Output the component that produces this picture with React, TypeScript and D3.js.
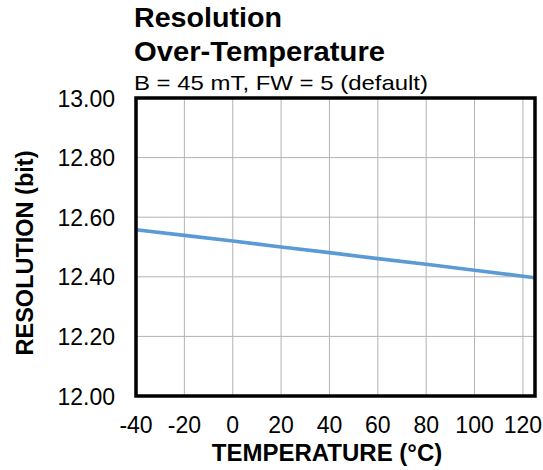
import { line, scaleLinear } from "d3";

const temps = [-40, -20, 0, 20, 40, 60, 80, 100, 120, 125];
const resolution = [12.558, 12.539, 12.52, 12.5, 12.481, 12.461, 12.442, 12.422, 12.402, 12.397];
const xTicks = [-40, -20, 0, 20, 40, 60, 80, 100, 120];
const yTicks = [12.0, 12.2, 12.4, 12.6, 12.8, 13.0];

export default function App() {
  const width = 543;
  const height = 470;
  const left = 136;
  const right = 535;
  const top = 98;
  const bottom = 396;
  const font = "'Liberation Sans', Arial, sans-serif";

  const x = scaleLinear().domain([-40, 125]).range([left, right]);
  const y = scaleLinear().domain([12, 13]).range([bottom, top]);

  const path =
    line<number>()
      .x((_, i) => x(temps[i]))
      .y((d) => y(d))(resolution) ?? "";

  return (
    <svg
      width={width}
      height={height}
      style={{ position: "absolute", left: 0, top: 0, background: "#fff" }}
      fontFamily={font}
    >
      <text x={134} y={27} fontSize={27} fontWeight="bold" fill="#000" textLength={148} lengthAdjust="spacingAndGlyphs">
        Resolution
      </text>
      <text x={134} y={61} fontSize={27} fontWeight="bold" fill="#000" textLength={251} lengthAdjust="spacingAndGlyphs">
        Over-Temperature
      </text>
      <text x={134} y={90} fontSize={21} fill="#000" textLength={294} lengthAdjust="spacingAndGlyphs">
        B = 45 mT, FW = 5 (default)
      </text>

      {xTicks.map((t) => (
        <line key={`gx${t}`} x1={x(t)} x2={x(t)} y1={top} y2={bottom} stroke="#b3b3b3" strokeWidth={1} />
      ))}
      {yTicks.map((t) => (
        <line key={`gy${t}`} x1={left} x2={right} y1={y(t)} y2={y(t)} stroke="#b3b3b3" strokeWidth={1} />
      ))}

      <path d={path} fill="none" stroke="#5b9bd5" strokeWidth={3.6} />

      <rect x={left} y={top} width={right - left} height={bottom - top} fill="none" stroke="#000" strokeWidth={3.5} />

      {yTicks.map((t) => (
        <text key={`ly${t}`} x={115} y={y(t) + 8.5} fontSize={23} textAnchor="end" fill="#000">
          {t.toFixed(2)}
        </text>
      ))}
      {xTicks.map((t) => (
        <text key={`lx${t}`} x={x(t)} y={433} fontSize={23} textAnchor="middle" fill="#000">
          {t}
        </text>
      ))}

      <text x={327} y={461} fontSize={24} fontWeight="bold" textAnchor="middle" fill="#000">
        TEMPERATURE (°C)
      </text>
      <text
        transform={`translate(33, 253) rotate(-90)`}
        fontSize={23.5}
        fontWeight="bold"
        textAnchor="middle"
        fill="#000"
      >
        RESOLUTION (bit)
      </text>
    </svg>
  );
}
